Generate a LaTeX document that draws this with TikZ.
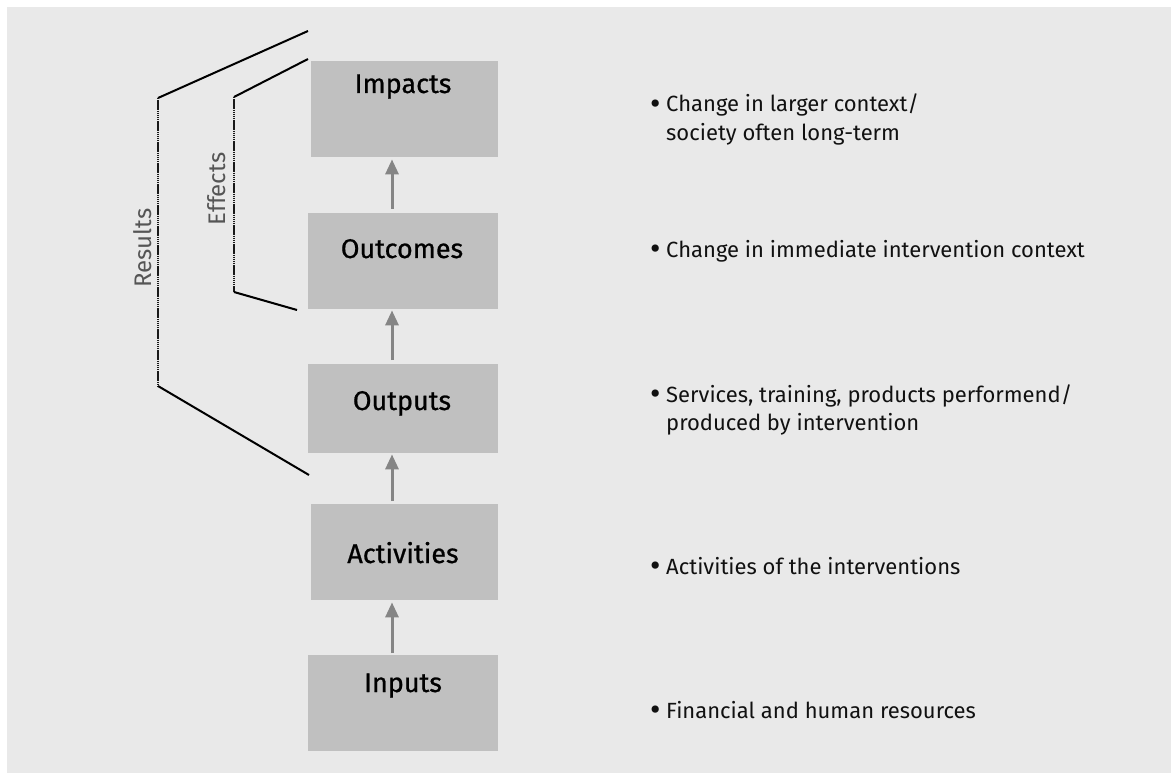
\documentclass[tikz,border=0pt]{standalone}
\usepackage{fontspec}
\setmainfont{Fira Sans}
\newfontfamily\boxfont{Fira Sans}[FakeBold=0.8]
\usetikzlibrary{arrows.meta}
\definecolor{bgcol}{HTML}{E9E9E9}
\definecolor{boxcol}{HTML}{C0C0C0}
\definecolor{arrcol}{HTML}{858585}
\definecolor{lblcol}{HTML}{555555}
\definecolor{txtcol}{HTML}{111111}
\newcommand{\blt}{\makebox[16pt][l]{\raisebox{-2.5pt}{\fontsize{32}{32}\selectfont •}}}
\tikzset{
  box/.style={fill=boxcol, draw=none, rectangle, anchor=north west, inner sep=0pt},
  boxlabel/.style={font=\boxfont\fontsize{27}{30}\selectfont, text=black, anchor=base, inner sep=0pt},
  desc/.style={font=\fontsize{22}{26}\selectfont, text=txtcol, anchor=base west, inner sep=0pt},
  sidelabel/.style={font=\fontsize{24}{28}\selectfont, text=lblcol, rotate=90, inner sep=0pt},
  flow/.style={draw=arrcol, line width=3pt, -{Triangle[length=15pt,width=13pt]}},
  brk/.style={draw=black, line width=2pt},
  brkv/.style={draw=black!90, line width=2pt, dash pattern=on 1.5pt off 0.6pt},
}
\begin{document}
\begin{tikzpicture}[x=1pt,y=-1pt]
\useasboundingbox (0,0) rectangle (1171,773);
\fill[bgcol] (7,7) rectangle (1171,773);
% boxes
\node[box, minimum width=187pt, minimum height=96pt] (imp) at (311,61) {};
\node[box, minimum width=190pt, minimum height=96pt] (outc) at (308,213) {};
\node[box, minimum width=190pt, minimum height=89pt] (outp) at (308,364) {};
\node[box, minimum width=187pt, minimum height=96pt] (act) at (311,504) {};
\node[box, minimum width=190pt, minimum height=96pt] (inp) at (308,655) {};
% box labels
\node[boxlabel] (impt) at (403,93) {Impacts};
\node[boxlabel] (outct) at (402,258) {Outcomes};
\node[boxlabel] (outpt) at (402,410) {Outputs};
\node[boxlabel] (actt) at (403,563) {Activities};
\node[boxlabel] (inpt) at (403,692) {Inputs};
% arrows
\coordinate (ax) at (392,0);
\draw[flow, shorten <=4pt, shorten >=2pt] (outc.north -| ax) -- (imp.south -| ax);
\draw[flow, shorten <=4pt, shorten >=1pt] (outp.north -| ax) -- (outc.south -| ax);
\draw[flow, shorten <=3pt, shorten >=1pt] (act.north -| ax) -- (outp.south -| ax);
\draw[flow, shorten <=2pt, shorten >=2pt] (inp.north -| ax) -- (act.south -| ax);
% brackets
\coordinate (r1) at (308,31);
\coordinate (r2) at (158,98);
\coordinate (r3) at (158,386);
\coordinate (r4) at (309,475);
\coordinate (e1) at (308,59);
\coordinate (e2) at (234,97);
\coordinate (e3) at (234,292);
\coordinate (e4) at (297,310);
\draw[brk] (r1) -- (r2);
\draw[brkv] (r2) -- (r3);
\draw[brk] (r3) -- (r4);
\draw[brk] (e1) -- (e2);
\draw[brkv] (e2) -- (e3);
\draw[brk] (e3) -- (e4);
\node[sidelabel] (res) at (143,248) {Results};
\node[sidelabel] (eff) at (217,189) {Effects};
% descriptions
\node[desc] (d1a) at (650,112) {\blt Change in larger context/};
\node[desc] (d1b) at (666,141) {society often long-term};
\node[desc] (d2) at (650,257) {\blt Change in immediate intervention context};
\node[desc] (d3a) at (650,402) {\blt Services, training, products performend/};
\node[desc] (d3b) at (666,430) {produced by intervention};
\node[desc] (d4) at (650,574) {\blt Activities of the interventions};
\node[desc] (d5) at (650,718) {\blt Financial and human resources};
\end{tikzpicture}
\end{document}
